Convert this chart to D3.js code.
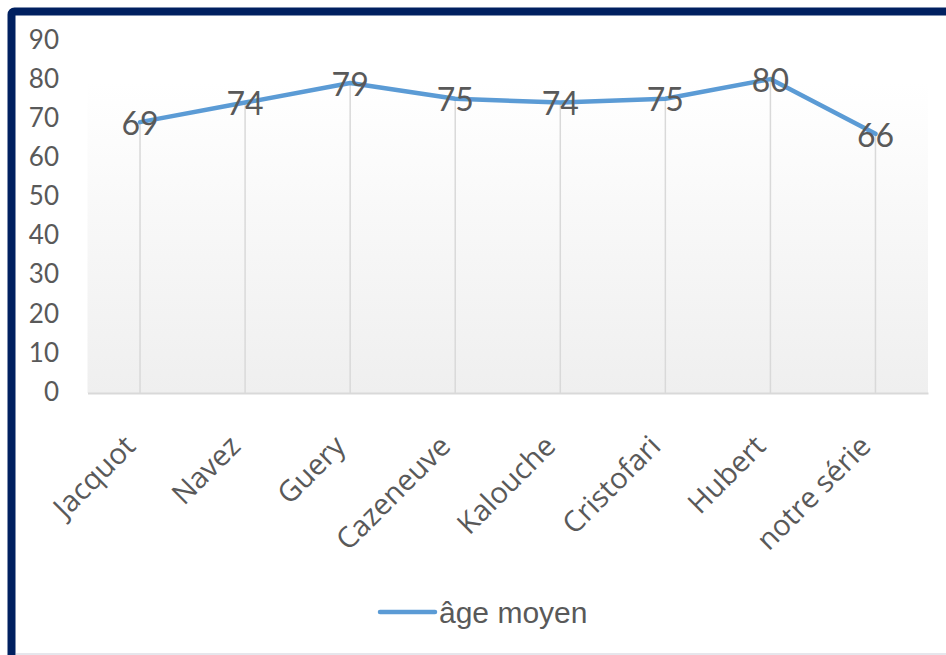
<!DOCTYPE html>
<html>
<head>
<meta charset="utf-8">
<script src="https://cdn.jsdelivr.net/npm/d3@7"></script>
<style>
  html, body { margin: 0; padding: 0; background: #ffffff; }
  svg { display: block; }
  .cat text { font-family: "Open Sans", sans-serif; font-size: 29px; font-weight: 400; }
</style>
</head>
<body>
<script>
// Âge moyen par service
const categories = ["Jacquot", "Navez", "Guery", "Cazeneuve", "Kalouche", "Cristofari", "Hubert", "notre série"];
const ageMoyen = [69, 74, 79, 75, 74, 75, 80, 66];
const yTicks = [0, 10, 20, 30, 40, 50, 60, 70, 80, 90];
const seriesName = "âge moyen";

const W = 946, H = 655;
const plot = { left: 87.5, right: 928, top: 83, bottom: 393 };
const lineColor = "#5b9bd5";
const textColor = "#595959";

const svg = d3.select("body").append("svg")
  .attr("width", W).attr("height", H);

// Plot-area gradient
const defs = svg.append("defs");
const grad = defs.append("linearGradient")
  .attr("id", "plotFill").attr("x1", 0).attr("y1", 0).attr("x2", 0).attr("y2", 1);
grad.append("stop").attr("offset", "0%").attr("stop-color", "#ffffff");
grad.append("stop").attr("offset", "100%").attr("stop-color", "#efefef");

const x = d3.scaleBand().domain(categories).range([plot.left, plot.right]);
const y = d3.scaleLinear().domain([0, 90]).range([plot.bottom - 1, 40]);
const cx = d => x(d) + x.bandwidth() / 2;

svg.append("rect")
  .attr("x", plot.left).attr("y", plot.top)
  .attr("width", plot.right - plot.left).attr("height", plot.bottom - plot.top)
  .attr("fill", "url(#plotFill)");

// Y axis labels (no line, no ticks)
const yAxis = d3.axisLeft(y).tickValues(yTicks).tickSize(0).tickPadding(0);
const gy = svg.append("g").attr("transform", "translate(59,0)").call(yAxis)
  .attr("font-family", "Lato, sans-serif").attr("font-size", 26);
gy.select(".domain").remove();
gy.selectAll("text").attr("fill", textColor);

// Drop lines from each point to the axis
svg.append("g").selectAll("line")
  .data(categories)
  .join("line")
  .attr("x1", d => cx(d)).attr("x2", d => cx(d))
  .attr("y1", plot.bottom).attr("y2", (d, i) => y(ageMoyen[i]))
  .attr("stroke", "#d9d9d9").attr("stroke-width", 1.5);

// Category axis
const xAxis = d3.axisBottom(x).tickSize(0).tickPadding(0);
const gx = svg.append("g").attr("class", "cat")
  .attr("transform", `translate(0,${plot.bottom})`).call(xAxis)
  .attr("font-family", null).attr("font-size", null);
gx.select(".domain").attr("stroke", "#d9d9d9").attr("stroke-width", 2);
gx.selectAll("text")
  .attr("fill", textColor)
  .attr("text-anchor", "end")
  .attr("y", 0).attr("dy", 0)
  .attr("transform", "translate(-3,55) rotate(-45)");

// Series line
const line = d3.line()
  .x((d, i) => cx(categories[i]))
  .y(d => y(d));
svg.append("path")
  .datum(ageMoyen)
  .attr("d", line)
  .attr("fill", "none")
  .attr("stroke", lineColor)
  .attr("stroke-width", 4.5)
  .attr("stroke-linejoin", "round")
  .attr("stroke-linecap", "round");

// Data labels, centred on each point
svg.append("g").selectAll("text")
  .data(ageMoyen)
  .join("text")
  .attr("x", (d, i) => cx(categories[i]))
  .attr("y", d => y(d))
  .attr("dy", "0.4em")
  .attr("text-anchor", "middle")
  .attr("fill", textColor)
  .style("font-family", "Lato, sans-serif")
  .style("font-size", "32px")
  .text(d => d3.format("d")(d));

// Legend
const legend = svg.append("g").attr("transform", "translate(380,612)");
legend.append("line")
  .attr("x1", 0).attr("x2", 55).attr("y1", 0).attr("y2", 0)
  .attr("stroke", lineColor).attr("stroke-width", 4.5).attr("stroke-linecap", "round");
legend.append("text")
  .attr("x", 59).attr("y", 0).attr("dy", "0.35em")
  .attr("fill", textColor)
  .style("font-family", "'Liberation Sans', Arial, sans-serif")
  .style("font-size", "30px")
  .text(seriesName);

// Chart frame
svg.append("rect")
  .attr("x", 11.5).attr("y", 11.5)
  .attr("width", W + 20).attr("height", H + 20)
  .attr("rx", 3)
  .attr("fill", "none")
  .attr("stroke", "#002060").attr("stroke-width", 8);
svg.append("line")
  .attr("x1", 16).attr("x2", W).attr("y1", 654).attr("y2", 654)
  .attr("stroke", "#e6e6ec").attr("stroke-width", 2);
</script>
</body>
</html>
